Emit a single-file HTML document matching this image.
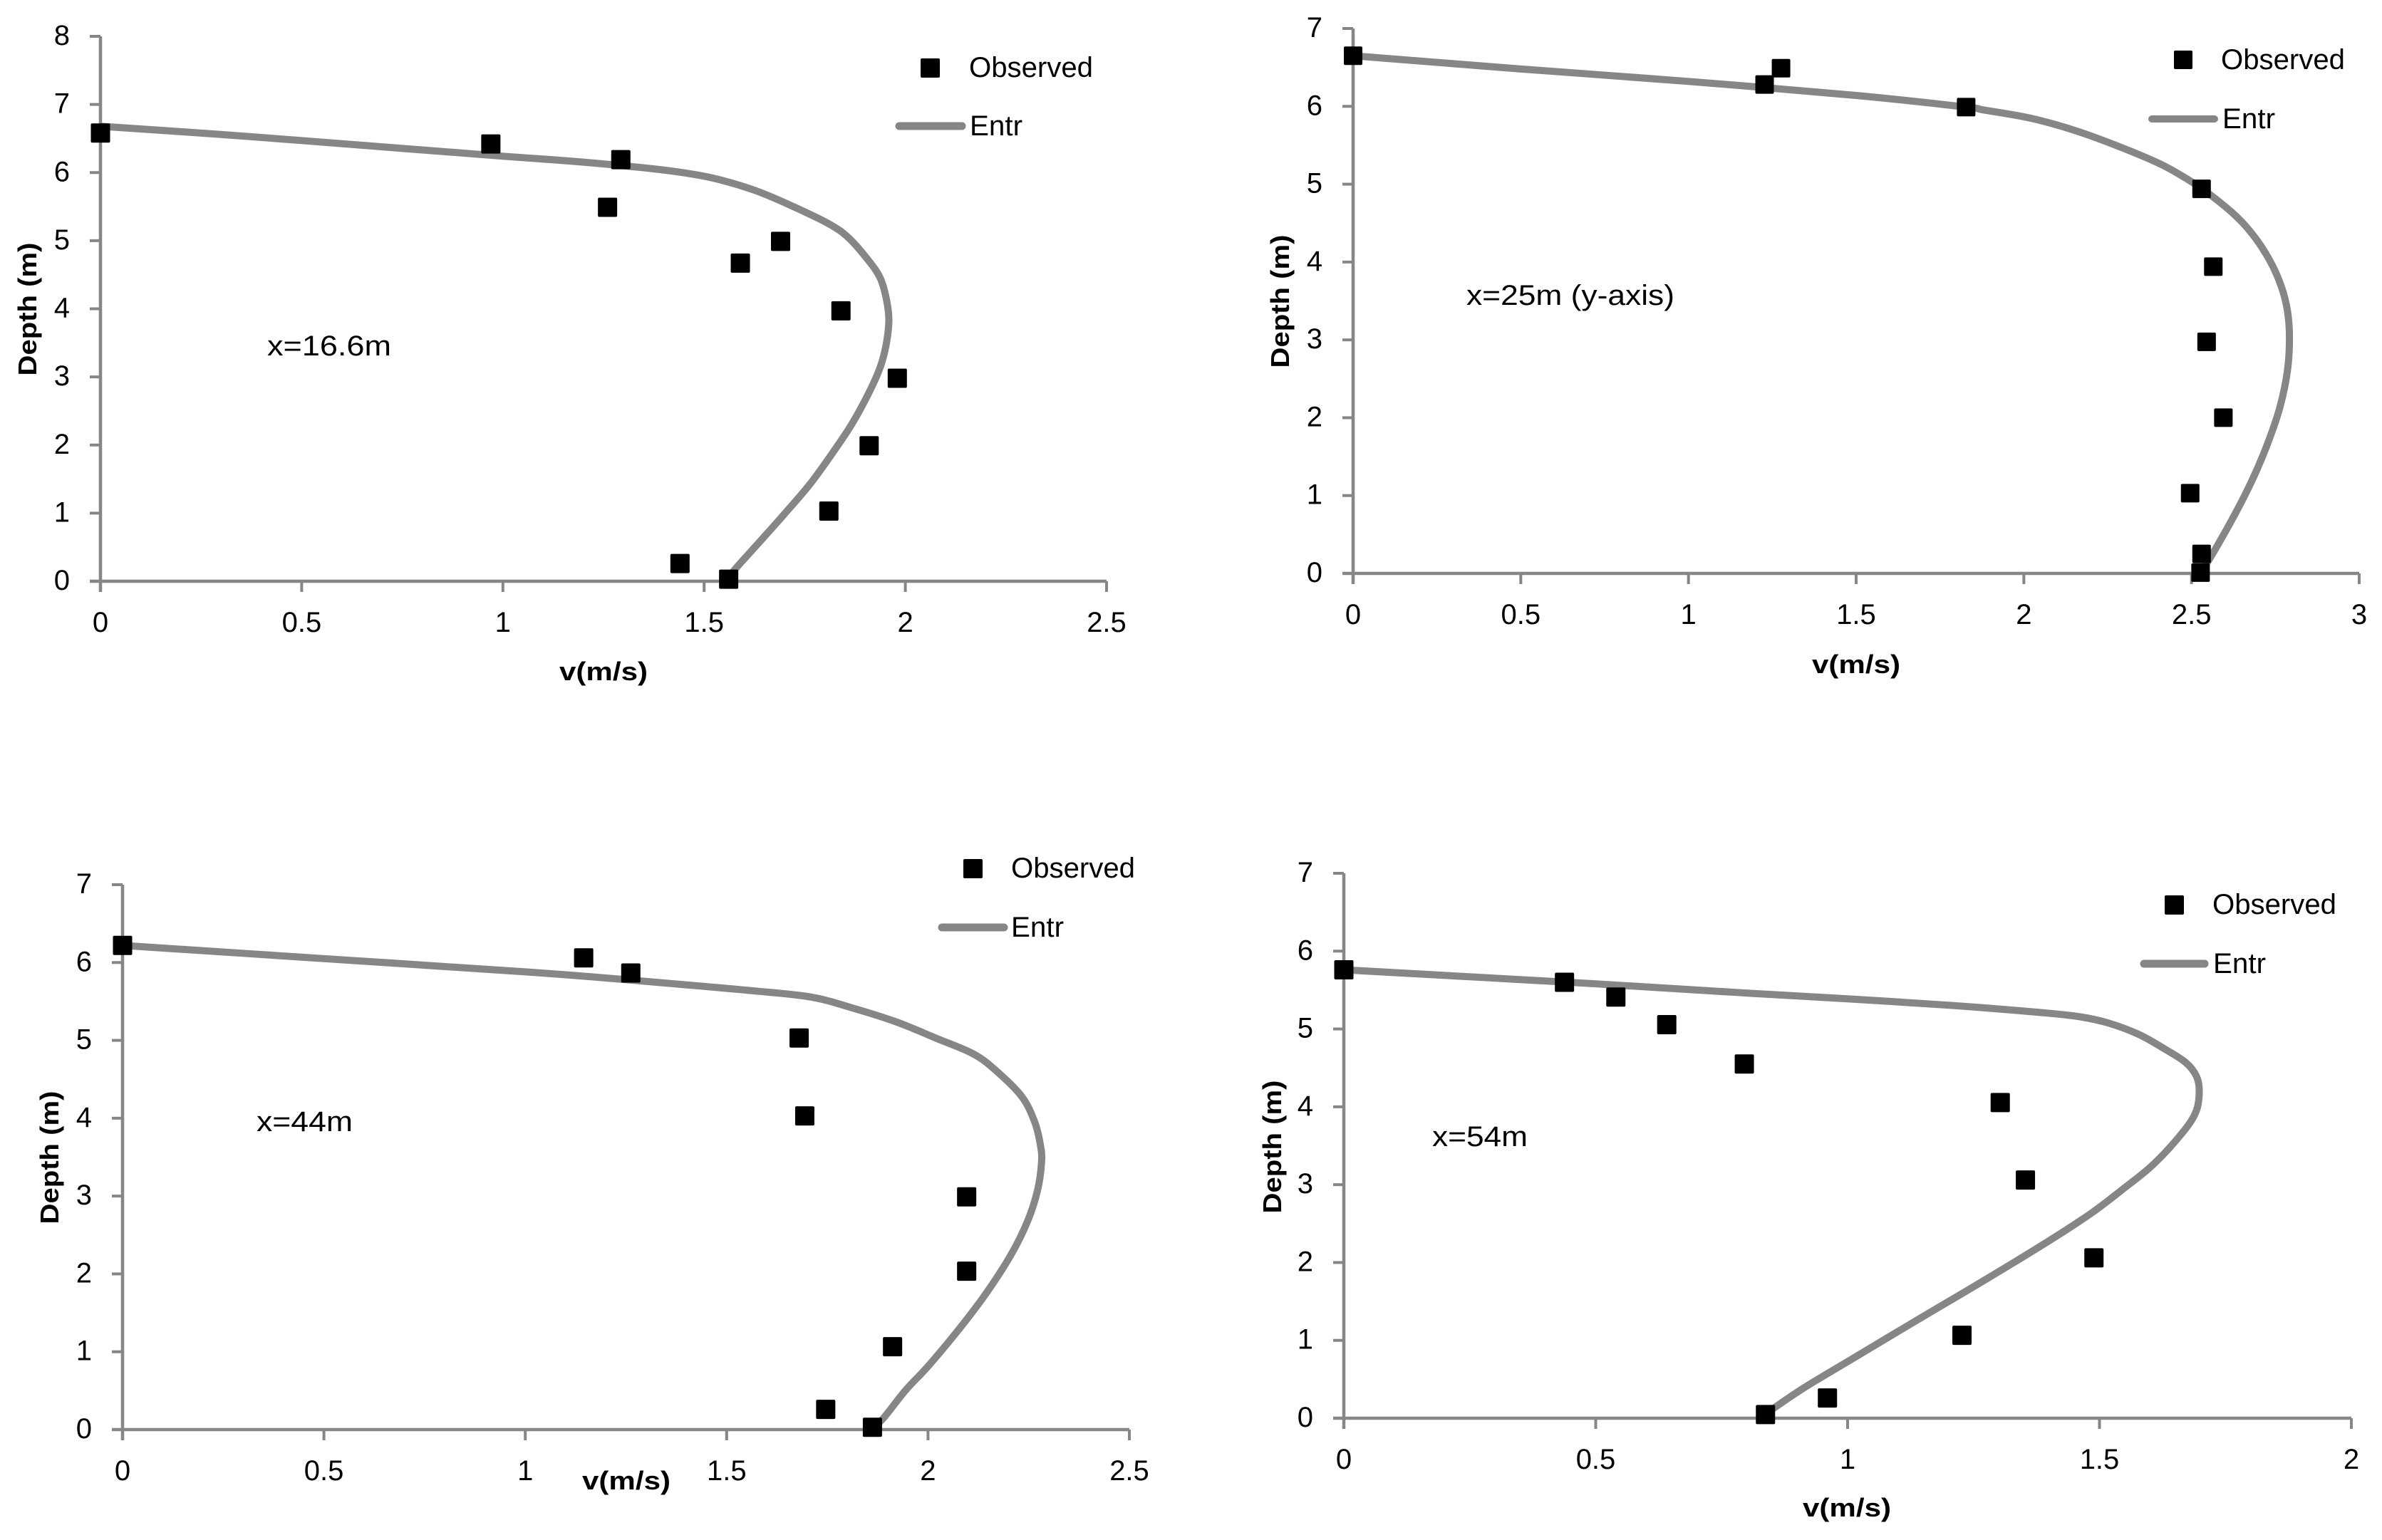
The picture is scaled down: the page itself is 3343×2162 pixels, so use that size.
<!DOCTYPE html>
<html lang="en">
<head>
<meta charset="utf-8">
<title>Velocity profiles at four stations</title>
<style>
html,body{margin:0;padding:0;background:#fff;width:3343px;height:2162px;overflow:hidden}
svg{display:block}
text{font-family:"Liberation Sans",sans-serif;fill:#000}
.tick,.note,.legend-text{font-size:40px}
.axis-title{font-size:36px;font-weight:bold}
</style>
</head>
<body>
<svg id="figure" xmlns="http://www.w3.org/2000/svg" width="3343" height="2162" viewBox="0 0 3343 2162">
  <rect x="0" y="0" width="3343" height="2162" fill="#fff"/>

  <g id="chart1">
    <text class="note" x="375" y="499" textLength="174" lengthAdjust="spacingAndGlyphs">x=16.6m</text>
    <text class="axis-title" x="847" y="955" text-anchor="middle" textLength="124" lengthAdjust="spacingAndGlyphs">v(m/s)</text>
    <text class="axis-title" transform="translate(51,434) rotate(-90)" text-anchor="middle" textLength="187" lengthAdjust="spacingAndGlyphs">Depth (m)</text>
    <rect x="1292" y="82" width="27" height="27" rx="2" fill="#000"/>
    <text class="legend-text" x="1360" y="108" textLength="174" lengthAdjust="spacingAndGlyphs">Observed</text>
    <line x1="1262" y1="177" x2="1350" y2="177" stroke="#868686" stroke-width="11" stroke-linecap="round"/>
    <text class="legend-text" x="1361" y="190" textLength="74" lengthAdjust="spacingAndGlyphs">Entr</text>
  </g>

  <g id="chart2">
    <text class="note" x="2058" y="428" textLength="292" lengthAdjust="spacingAndGlyphs">x=25m (y-axis)</text>
    <text class="axis-title" x="2605" y="945" text-anchor="middle" textLength="124" lengthAdjust="spacingAndGlyphs">v(m/s)</text>
    <text class="axis-title" transform="translate(1809,423) rotate(-90)" text-anchor="middle" textLength="187" lengthAdjust="spacingAndGlyphs">Depth (m)</text>
    <rect x="3051" y="71" width="26" height="26" rx="2" fill="#000"/>
    <text class="legend-text" x="3117" y="97" textLength="174" lengthAdjust="spacingAndGlyphs">Observed</text>
    <line x1="3020" y1="167" x2="3108" y2="167" stroke="#868686" stroke-width="10" stroke-linecap="round"/>
    <text class="legend-text" x="3119" y="180" textLength="74" lengthAdjust="spacingAndGlyphs">Entr</text>
  </g>

  <g id="chart3">
    <text class="note" x="360" y="1588" textLength="135" lengthAdjust="spacingAndGlyphs">x=44m</text>
    <text class="axis-title" x="879" y="2091" text-anchor="middle" textLength="124" lengthAdjust="spacingAndGlyphs">v(m/s)</text>
    <text class="axis-title" transform="translate(82,1625) rotate(-90)" text-anchor="middle" textLength="187" lengthAdjust="spacingAndGlyphs">Depth (m)</text>
    <rect x="1352" y="1206" width="27" height="27" rx="2" fill="#000"/>
    <text class="legend-text" x="1419" y="1232" textLength="174" lengthAdjust="spacingAndGlyphs">Observed</text>
    <line x1="1322" y1="1302" x2="1409" y2="1302" stroke="#868686" stroke-width="11" stroke-linecap="round"/>
    <text class="legend-text" x="1419" y="1315" textLength="74" lengthAdjust="spacingAndGlyphs">Entr</text>
  </g>

  <g id="chart4">
    <text class="note" x="2010" y="1609" textLength="134" lengthAdjust="spacingAndGlyphs">x=54m</text>
    <text class="axis-title" x="2592" y="2129" text-anchor="middle" textLength="124" lengthAdjust="spacingAndGlyphs">v(m/s)</text>
    <text class="axis-title" transform="translate(1798,1610) rotate(-90)" text-anchor="middle" textLength="187" lengthAdjust="spacingAndGlyphs">Depth (m)</text>
    <rect x="3038" y="1257" width="27" height="27" rx="2" fill="#000"/>
    <text class="legend-text" x="3105" y="1283" textLength="174" lengthAdjust="spacingAndGlyphs">Observed</text>
    <line x1="3009" y1="1353" x2="3094" y2="1353" stroke="#868686" stroke-width="11" stroke-linecap="round"/>
    <text class="legend-text" x="3106" y="1366" textLength="74" lengthAdjust="spacingAndGlyphs">Entr</text>
  </g>
</svg>

<script>
// Chart 1: x = 16.6 m
var chart1XTicks = ['0', '0.5', '1', '1.5', '2', '2.5'];
var chart1YTicks = ['0', '1', '2', '3', '4', '5', '6', '7', '8'];
var chart1ObservedV = [0, 0.97, 1.293, 1.26, 1.59, 1.69, 1.84, 1.98, 1.91, 1.81, 1.44, 1.561];
var chart1ObservedD = [6.58, 6.42, 6.19, 5.49, 4.67, 4.99, 3.97, 2.98, 1.99, 1.03, 0.26, 0.03];
var chart1EntrV = [0, 0.28, 0.5, 1, 1.167, 1.293, 1.412, 1.517, 1.622, 1.713, 1.811, 1.86, 1.909, 1.937, 1.952, 1.959, 1.952, 1.937, 1.909, 1.867, 1.818, 1.762, 1.699, 1.643, 1.58, 1.56];
var chart1EntrD = [6.68, 6.567, 6.47, 6.24, 6.169, 6.103, 6.028, 5.925, 5.747, 5.524, 5.243, 5.036, 4.705, 4.457, 4.167, 3.837, 3.465, 3.134, 2.762, 2.307, 1.873, 1.418, 0.984, 0.612, 0.198, 0.05];

// Chart 2: x = 25 m (y-axis)
var chart2XTicks = ['0', '0.5', '1', '1.5', '2', '2.5', '3'];
var chart2YTicks = ['0', '1', '2', '3', '4', '5', '6', '7'];
var chart2ObservedV = [0, 1.276, 1.227, 1.828, 2.53, 2.565, 2.545, 2.595, 2.496, 2.53, 2.527];
var chart2ObservedD = [6.65, 6.49, 6.28, 5.99, 4.94, 3.94, 2.975, 2.0, 1.03, 0.25, 0.01];
var chart2EntrV = [0, 0.5, 1, 1.5, 1.828, 1.878, 2.021, 2.156, 2.29, 2.406, 2.486, 2.558, 2.638, 2.692, 2.737, 2.768, 2.786, 2.792, 2.786, 2.764, 2.728, 2.683, 2.629, 2.558, 2.53];
var chart2EntrD = [6.65, 6.48, 6.32, 6.14, 5.99, 5.955, 5.847, 5.685, 5.473, 5.261, 5.069, 4.857, 4.568, 4.299, 3.99, 3.683, 3.375, 3.028, 2.604, 2.142, 1.68, 1.218, 0.756, 0.217, 0.04];

// Chart 3: x = 44 m
var chart3XTicks = ['0', '0.5', '1', '1.5', '2', '2.5'];
var chart3YTicks = ['0', '1', '2', '3', '4', '5', '6', '7'];
var chart3ObservedV = [0, 1.145, 1.262, 1.68, 1.694, 2.096, 2.096, 1.912, 1.746, 1.862];
var chart3ObservedD = [6.22, 6.06, 5.865, 5.03, 4.03, 2.99, 2.035, 1.065, 0.26, 0.03];
var chart3EntrV = [0, 0.5, 1, 1.25, 1.429, 1.57, 1.711, 1.817, 1.923, 2.021, 2.113, 2.17, 2.233, 2.265, 2.279, 2.282, 2.272, 2.247, 2.205, 2.141, 2.071, 2.0, 1.944, 1.888, 1.862];
var chart3EntrD = [6.22, 6.05, 5.88, 5.78, 5.70, 5.635, 5.555, 5.409, 5.234, 5.026, 4.825, 4.606, 4.278, 3.95, 3.658, 3.439, 3.074, 2.674, 2.236, 1.726, 1.251, 0.813, 0.503, 0.139, 0.03];

// Chart 4: x = 54 m
var chart4XTicks = ['0', '0.5', '1', '1.5', '2'];
var chart4YTicks = ['0', '1', '2', '3', '4', '5', '6', '7'];
var chart4ObservedV = [0, 0.438, 0.54, 0.641, 0.795, 1.303, 1.353, 1.489, 1.227, 0.96, 0.837];
var chart4ObservedD = [5.76, 5.6, 5.41, 5.055, 4.55, 4.055, 3.06, 2.06, 1.065, 0.26, 0.047];
var chart4EntrV = [0, 0.5, 0.798, 1.003, 1.208, 1.384, 1.46, 1.519, 1.578, 1.63, 1.671, 1.692, 1.698, 1.692, 1.666, 1.607, 1.542, 1.484, 1.408, 1.279, 1.15, 1.003, 0.915, 0.85, 0.837];
var chart4EntrD = [5.76, 5.58, 5.462, 5.386, 5.302, 5.211, 5.158, 5.074, 4.93, 4.741, 4.57, 4.399, 4.209, 3.944, 3.678, 3.261, 2.92, 2.635, 2.312, 1.801, 1.307, 0.738, 0.397, 0.113, 0.047];

var SVG_NS = 'http://www.w3.org/2000/svg';
var AXIS_COLOR = '#868686';

function shape(parent, tag, props) {
  var el = document.createElementNS(SVG_NS, tag);
  for (var k in props) el.setAttribute(k, props[k]);
  parent.appendChild(el);
  return el;
}

function smoothPath(pts) {
  var d = 'M' + pts[0][0] + ' ' + pts[0][1];
  for (var i = 0; i < pts.length - 1; i++) {
    var p0 = pts[Math.max(i - 1, 0)], p1 = pts[i], p2 = pts[i + 1], p3 = pts[Math.min(i + 2, pts.length - 1)];
    d += 'C' + (p1[0] + (p2[0] - p0[0]) / 6) + ' ' + (p1[1] + (p2[1] - p0[1]) / 6) + ' ' +
         (p2[0] - (p3[0] - p1[0]) / 6) + ' ' + (p2[1] - (p3[1] - p1[1]) / 6) + ' ' + p2[0] + ' ' + p2[1];
  }
  return d;
}

function drawChart(id, box, xTicks, yTicks, obsV, obsD, entrV, entrD) {
  var root = document.getElementById(id);
  var xMax = parseFloat(xTicks[xTicks.length - 1]);
  var yMax = parseFloat(yTicks[yTicks.length - 1]);
  var half = box.marker / 2;
  function sx(v) { return box.left + (v / xMax) * (box.right - box.left); }
  function sy(d) { return box.bottom - (d / yMax) * (box.bottom - box.top); }

  var yLine = shape(root, 'line', {x1: box.left, y1: box.top, x2: box.left, y2: box.bottom + 15, stroke: AXIS_COLOR, 'stroke-width': 4.5});
  
  
  var xLine = shape(root, 'line', {x1: box.left - 15, y1: box.bottom, x2: box.right, y2: box.bottom, stroke: AXIS_COLOR, 'stroke-width': 4.5});
  
  

  xTicks.forEach(function (label) {
    var x = sx(parseFloat(label));
    var tick = shape(root, 'line', {x1: x, y1: box.bottom, x2: x, y2: box.bottom + 15, stroke: AXIS_COLOR, 'stroke-width': 4});
    
    
    var text = shape(root, 'text', {x: x, y: box.bottom + 71, 'text-anchor': 'middle', 'class': 'tick'});
    
    
    text.textContent = label;
  });

  yTicks.forEach(function (label) {
    var y = sy(parseFloat(label));
    var tick = shape(root, 'line', {x1: box.left - 15, y1: y, x2: box.left, y2: y, stroke: AXIS_COLOR, 'stroke-width': 4});
    
    
    var text = shape(root, 'text', {x: box.left - 43, y: y + 12, 'text-anchor': 'end', 'class': 'tick'});
    
    
    text.textContent = label;
  });

  var pts = entrV.map(function (v, i) { return [sx(v), sy(entrD[i])]; });
  var curve = shape(root, 'path', {d: smoothPath(pts), fill: 'none', stroke: AXIS_COLOR, 'stroke-width': 10, 'stroke-linejoin': 'round'});
  
  

  obsV.forEach(function (v, i) {
    var marker = shape(root, 'rect', {x: sx(v) - half, y: sy(obsD[i]) - half, width: box.marker, height: box.marker, rx: 2, fill: '#000'});
    
    
  });
}

drawChart('chart1', {left: 141, right: 1553, top: 51, bottom: 816, marker: 27}, chart1XTicks, chart1YTicks, chart1ObservedV, chart1ObservedD, chart1EntrV, chart1EntrD);
drawChart('chart2', {left: 1899, right: 3311, top: 40, bottom: 805, marker: 26}, chart2XTicks, chart2YTicks, chart2ObservedV, chart2ObservedD, chart2EntrV, chart2EntrD);
drawChart('chart3', {left: 172, right: 1585, top: 1242, bottom: 2007, marker: 27}, chart3XTicks, chart3YTicks, chart3ObservedV, chart3ObservedD, chart3EntrV, chart3EntrD);
drawChart('chart4', {left: 1886, right: 3300, top: 1226, bottom: 1991, marker: 27}, chart4XTicks, chart4YTicks, chart4ObservedV, chart4ObservedD, chart4EntrV, chart4EntrD);
</script>
</body>
</html>
